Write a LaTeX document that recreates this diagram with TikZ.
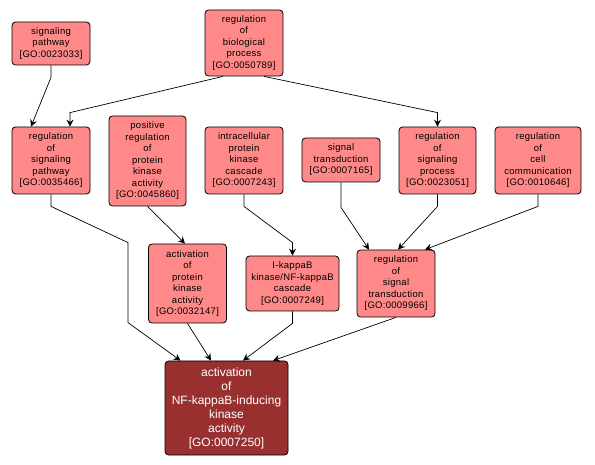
\documentclass[tikz,border=0pt]{standalone}
\usepackage{fontspec}
\setmainfont{Liberation Sans}
\newfontfamily\nodefont[LetterSpace=3]{Liberation Sans}
\usetikzlibrary{calc,arrows.meta}
\definecolor{gofill}{RGB}{255,137,137}
\definecolor{gotarget}{RGB}{153,48,48}
\tikzset{
  goterm/.style={draw=black, line width=0.8pt, fill=gofill, rounded corners=3.5pt, inner sep=0pt, align=center,
    font=\nodefont\fontsize{9.5}{11.5}\selectfont},
  gomain/.style={draw=black, line width=0.8pt, fill=gotarget, text=white, rounded corners=3.5pt, inner sep=0pt, align=center,
    font=\fontsize{12}{14}\selectfont},
  golink/.style={draw=black, line width=0.7pt, -{Stealth[length=7pt,width=7pt,inset=2.5pt]}},
}
\begin{document}
\begin{tikzpicture}[x=1pt,y=-1pt]
\useasboundingbox (0,0) rectangle (595,465);
\node[goterm, minimum width=78pt, minimum height=43pt] (sp) at (51,43.5) {signaling\\pathway\\{}[GO:0023033]};
\node[goterm, minimum width=78pt, minimum height=66pt] (rbp) at (244,43) {regulation\\of\\biological\\process\\{}[GO:0050789]};
\node[goterm, minimum width=78pt, minimum height=67pt] (rsp) at (51,160.5) {regulation\\of\\signaling\\pathway\\{}[GO:0035466]};
\node[goterm, minimum width=77pt, minimum height=90pt] (prpka) at (147.5,161) {positive\\regulation\\of\\protein\\kinase\\activity\\{}[GO:0045860]};
\node[goterm, minimum width=78pt, minimum height=67pt] (ipkc) at (244,160.5) {intracellular\\protein\\kinase\\cascade\\{}[GO:0007243]};
\node[goterm, minimum width=78pt, minimum height=44pt] (st) at (341,160) {signal\\transduction\\{}[GO:0007165]};
\node[goterm, minimum width=77pt, minimum height=67pt] (rsproc) at (437.5,160.5) {regulation\\of\\signaling\\process\\{}[GO:0023051]};
\node[goterm, minimum width=86pt, minimum height=67pt] (rcc) at (538,160.5) {regulation\\of\\cell\\communication\\{}[GO:0010646]};
\node[goterm, minimum width=78pt, minimum height=79pt] (apka) at (187.5,283.5) {activation\\of\\protein\\kinase\\activity\\{}[GO:0032147]};
\node[goterm, minimum width=93pt, minimum height=55pt] (ikb) at (292.5,283.5) {I-kappaB\\kinase/NF-kappaB\\cascade\\{}[GO:0007249]};
\node[goterm, minimum width=78pt, minimum height=67pt] (rst) at (396,283.5) {regulation\\of\\signal\\transduction\\{}[GO:0009966]};
\node[gomain, minimum width=123pt, minimum height=94pt] (tgt) at (226.5,408) {activation\\of\\NF-kappaB-inducing\\kinase\\activity\\{}[GO:0007250]};

\draw[golink] (sp.south) -- ++(0,12) -- ($(rsp.north)+(-20,0)$);
\draw[golink] ($(rbp.south)+(-21,0)$) -- ($(rsp.north)+(19,-14)$) -- ($(rsp.north)+(19,0)$);
\draw[golink] ($(rbp.south)+(20,0)$) -- ($(rsproc.north)+(0,-14)$) -- (rsproc.north);
\draw[golink] (rsp.south) -- ++(0,12) -- ($(tgt.north)+(-98.5,-118)$) -- ($(tgt.north)+(-98.5,-38)$) -- ($(tgt.north)+(-46,0)$);
\draw[golink] (prpka.south) -- ($(apka.north)+(-2.5,0)$);
\draw[golink] (apka.south) -- ($(tgt.north)+(-15.5,0)$);
\draw[golink] (ipkc.south) -- ++(0,12) -- ($(ikb.north)+(0,-13)$) -- (ikb.north);
\draw[golink] (ikb.south) -- ++(0,12) -- ($(tgt.north)+(16.5,0)$);
\draw[golink] (st.south) -- ++(0,25) -- ($(rst.north)+(-27,0)$);
\draw[golink] (rsproc.south) -- ++(0,12) -- ($(rst.north)+(2,0)$);
\draw[golink] (rcc.south) -- ++(0,12) -- ($(rst.north)+(29,0)$);
\draw[golink] (rst.south) -- ($(tgt.north)+(46.5,0)$);
\end{tikzpicture}
\end{document}
